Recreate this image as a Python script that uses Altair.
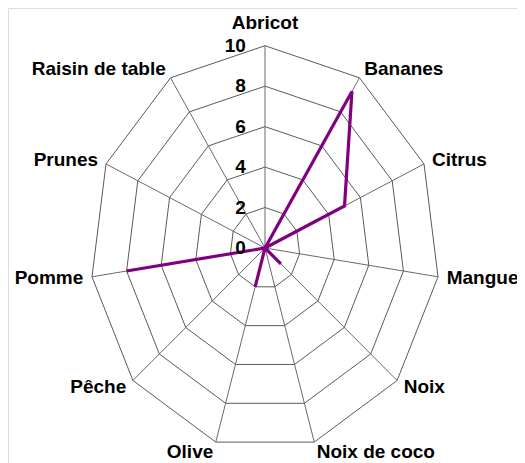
import math
import altair as alt
import pandas as pd

categories = ["Abricot", "Bananes", "Citrus", "Mangue", "Noix", "Noix de coco",
              "Olive", "Pêche", "Pomme", "Prunes", "Raisin de table"]
values = [0, 9.2, 5, 0, 1.2, 0, 2, 0, 8, 0, 0]
ring_levels = [2, 4, 6, 8, 10]
tick_labels = ["0", "2", "4", "6", "8", "10"]
tick_values = [0, 2, 4, 6, 8, 10]

n = len(categories)
ang = [2 * math.pi * i / n for i in range(n)]

# data line (closed)
line_rows = []
for k in range(n + 1):
    i = k % n
    line_rows.append({"order": k, "x": values[i] * math.sin(ang[i]), "y": values[i] * math.cos(ang[i])})
line_df = pd.DataFrame(line_rows)

# rings
ring_rows = []
for r in ring_levels:
    for k in range(n + 1):
        i = k % n
        ring_rows.append({"ring": r, "order": k, "x": r * math.sin(ang[i]), "y": r * math.cos(ang[i])})
ring_df = pd.DataFrame(ring_rows)

# spokes
spoke_df = pd.DataFrame({
    "x": [0.0] * n, "y": [0.0] * n,
    "x2": [10 * math.sin(a) for a in ang],
    "y2": [10 * math.cos(a) for a in ang],
})

# category labels
lab_rows = []
for i, c in enumerate(categories):
    s, co = math.sin(ang[i]), math.cos(ang[i])
    rr = 11.1 if i == 0 else 10.5
    align = "center" if abs(s) < 0.1 else ("left" if s > 0 else "right")
    lab_rows.append({"label": c, "x": rr * s, "y": rr * co, "align": align})
lab_df = pd.DataFrame(lab_rows)

tick_df = pd.DataFrame({"label": tick_labels, "x": [-1.1] * len(tick_values), "y": tick_values})

xs = alt.Scale(domain=[-14.703, 14.416], nice=False, zero=False)
ys = alt.Scale(domain=[-10.628, 11.864], nice=False, zero=False)

rings = alt.Chart(ring_df).mark_line(color="#5a5a5a", strokeWidth=1).encode(
    x=alt.X("x:Q", scale=xs, axis=None),
    y=alt.Y("y:Q", scale=ys, axis=None),
    detail="ring:N",
    order="order:Q",
)

spokes = alt.Chart(spoke_df).mark_rule(color="#6a6a6a", strokeWidth=1).encode(
    x=alt.X("x:Q", scale=xs, axis=None),
    y=alt.Y("y:Q", scale=ys, axis=None),
    x2="x2:Q",
    y2="y2:Q",
)

line = alt.Chart(line_df).mark_line(color="#800080", strokeWidth=3.2).encode(
    x=alt.X("x:Q", scale=xs, axis=None),
    y=alt.Y("y:Q", scale=ys, axis=None),
    order="order:Q",
)

def labels_for(align):
    return alt.Chart(lab_df[lab_df["align"] == align]).mark_text(
        align=align, baseline="middle", font="Liberation Sans", fontSize=19,
        fontWeight="bold", color="black"
    ).encode(
        x=alt.X("x:Q", scale=xs, axis=None),
        y=alt.Y("y:Q", scale=ys, axis=None),
        text="label:N",
    )

ticks = alt.Chart(tick_df).mark_text(
    align="right", baseline="middle", font="Liberation Sans", fontSize=19,
    fontWeight="bold", color="black"
).encode(
    x=alt.X("x:Q", scale=xs, axis=None),
    y=alt.Y("y:Q", scale=ys, axis=None),
    text="label:N",
)

chart = alt.layer(
    rings, spokes, line, ticks,
    labels_for("center"), labels_for("left"), labels_for("right"),
).properties(
    width=509, height=455, padding=0, autosize="none",
).configure_view(stroke=None).configure(background="white")

chart.save("out.html", embed_options={"renderer": "svg", "actions": False})
